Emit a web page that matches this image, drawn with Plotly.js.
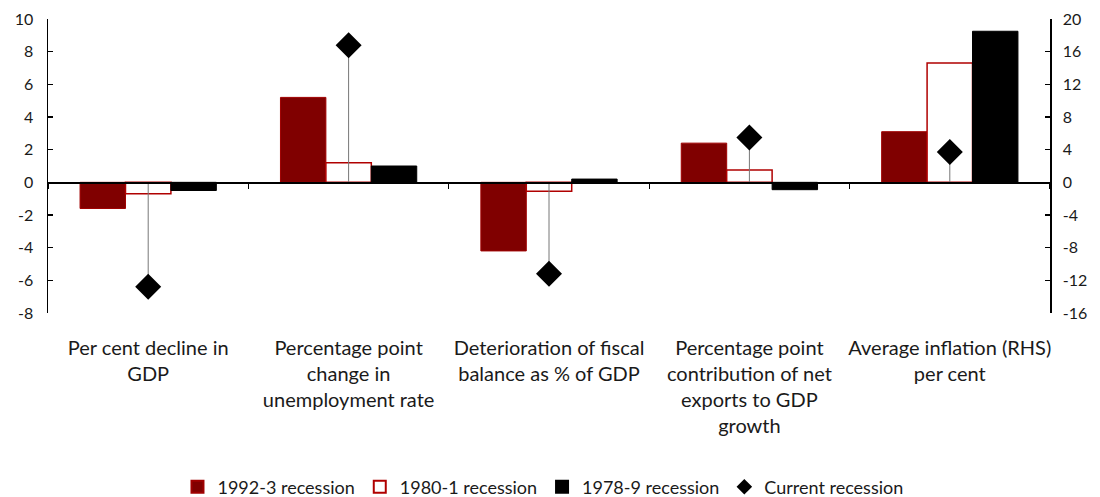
<!DOCTYPE html>
<html>
<head>
<meta charset="utf-8">
<script src="https://cdn.plot.ly/plotly-3.0.1.min.js"></script>
<style>html,body{margin:0;padding:0;background:#fff;}#chart{width:1100px;height:497px;}</style>
</head>
<body>
<div id="chart"></div>
<script>
// Categories (the last one is read on the right-hand axis)
const categories = [
  "Per cent decline in<br>GDP",
  "Percentage point<br>change in<br>unemployment rate",
  "Deterioration of fiscal<br>balance as % of GDP",
  "Percentage point<br>contribution of net<br>exports to GDP<br>growth",
  "Average inflation (RHS)<br>per cent"
];
const seriesNames = ["1992-3 recession", "1980-1 recession", "1978-9 recession", "Current recession"];
const rec1992 = [-1.6, 5.2, -4.2, 2.4, 6.2];
const rec1980 = [-0.7, 1.2, -0.55, 0.75, 14.6];
const rec1978 = [-0.5, 1.0, 0.2, -0.45, 18.5];
const current = [-6.4, 8.4, -5.6, 2.75, 3.7];
const lhsTicks = [-8, -6, -4, -2, 0, 2, 4, 6, 8, 10];
const rhsTicks = [-16, -12, -8, -4, 0, 4, 8, 12, 16, 20];

const nL = 4; // first four categories on LHS
const FONT = "Lato, 'Open Sans', sans-serif";
const TXT = "#1a1a1a";
const barStyles = [
  {color: "#800000", line: {color: "#a00000", width: 1}},
  {color: "#ffffff", line: {color: "#b00000", width: 1.5}},
  {color: "#000000", line: {color: "#000000", width: 1}}
];
const barSeries = [rec1992, rec1980, rec1978];

function stems(vals) {
  return {
    type: "data", symmetric: false,
    array: vals.map(v => v < 0 ? -v : 0),
    arrayminus: vals.map(v => v > 0 ? v : 0),
    color: "#777777", thickness: 1, width: 0
  };
}

const traces = [];
// LHS traces
barSeries.forEach((s, i) => {
  traces.push({
    type: "bar", name: seriesNames[i], x: categories.slice(0, nL), y: s.slice(0, nL),
    marker: barStyles[i], xaxis: "x", yaxis: "y", hoverinfo: "x+y"
  });
});
traces.push({
  type: "scatter", mode: "markers", name: seriesNames[3],
  x: categories.slice(0, nL), y: current.slice(0, nL),
  marker: {symbol: "diamond", size: 20, color: "#000000"},
  error_y: stems(current.slice(0, nL)), xaxis: "x", yaxis: "y"
});
// dummy trace so the zero-line axis knows all categories
traces.push({
  type: "scatter", mode: "markers", x: categories, y: categories.map(() => null),
  xaxis: "x2", yaxis: "y2", showlegend: false, hoverinfo: "skip"
});
// RHS traces
barSeries.forEach((s, i) => {
  traces.push({
    type: "bar", name: seriesNames[i], x: categories.slice(nL), y: s.slice(nL),
    marker: barStyles[i], xaxis: "x2", yaxis: "y2", showlegend: false, hoverinfo: "x+y"
  });
});
traces.push({
  type: "scatter", mode: "markers", name: seriesNames[3],
  x: categories.slice(nL), y: current.slice(nL),
  marker: {symbol: "diamond", size: 20, color: "#000000"},
  error_y: stems(current.slice(nL)), xaxis: "x2", yaxis: "y2", showlegend: false
});

const yMin = lhsTicks[0], yMax = lhsTicks[lhsTicks.length - 1];
const zeroPos = (0 - yMin) / (yMax - yMin);

const layout = {
  width: 1100, height: 497,
  margin: {l: 48, r: 50, t: 19, b: 184},
  paper_bgcolor: "#ffffff", plot_bgcolor: "#ffffff",
  font: {family: FONT, size: 15, color: TXT},
  barmode: "group", bargap: 0.32, bargroupgap: 0,
  showlegend: true,
  legend: {orientation: "h", xref: "paper", x: 0.494, xanchor: "center",
           yref: "container", y: 0.02, yanchor: "middle",
           font: {family: FONT, size: 18, color: TXT}, traceorder: "normal",
           itemsizing: "constant", itemwidth: 30, tracegroupgap: 0},
  xaxis: {
    type: "category", categoryorder: "array", categoryarray: categories,
    range: [-0.5, categories.length - 0.5],
    showline: false, showgrid: false, zeroline: false, ticks: "",
    ticklabelstandoff: 21, tickangle: 0,
    tickfont: {family: FONT, size: 20, color: TXT}
  },
  xaxis2: {
    type: "category", categoryorder: "array", categoryarray: categories,
    range: [-0.5, categories.length - 0.5],
    overlaying: "x", anchor: "free", position: zeroPos,
    showline: true, linecolor: "#000000", linewidth: 1.5,
    ticks: "outside", tickson: "boundaries", ticklen: 5, tickcolor: "#000000", tickwidth: 1.2,
    showticklabels: false, showgrid: false, zeroline: false
  },
  yaxis: {
    range: [yMin, yMax], tickvals: lhsTicks, ticktext: lhsTicks.map(String),
    ticks: "inside", ticklen: 5, tickcolor: "#000000", tickwidth: 1.2,
    showline: true, linecolor: "#000000", linewidth: 1.5,
    showgrid: false, zeroline: false, ticklabelstandoff: 10,
    tickfont: {family: FONT, size: 16, color: TXT}
  },
  yaxis2: {
    range: [rhsTicks[0], rhsTicks[rhsTicks.length - 1]], tickvals: rhsTicks, ticktext: rhsTicks.map(String),
    overlaying: "y", side: "right", anchor: "x2",
    ticks: "inside", ticklen: 5, tickcolor: "#000000", tickwidth: 1.2,
    showline: true, linecolor: "#000000", linewidth: 1.5,
    showgrid: false, zeroline: false, ticklabelstandoff: 8,
    tickfont: {family: FONT, size: 16, color: TXT}
  }
};

Plotly.newPlot("chart", traces, layout, {displayModeBar: false, staticPlot: true});
</script>
</body>
</html>
